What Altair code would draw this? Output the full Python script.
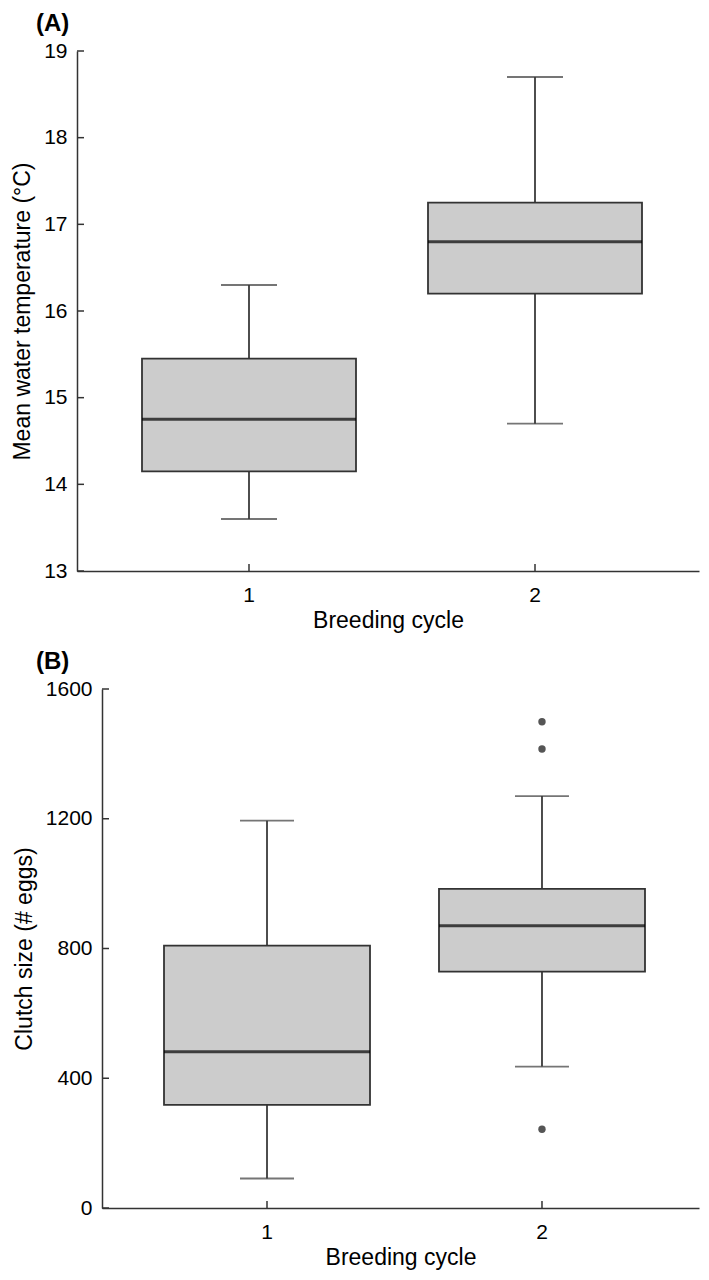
import altair as alt
import pandas as pd

cycles = ["1", "2"]

temp_low = [13.6, 14.7]
temp_q1 = [14.15, 16.2]
temp_median = [14.75, 16.8]
temp_q3 = [15.45, 17.25]
temp_high = [16.3, 18.7]
temp_ticks = [13, 14, 15, 16, 17, 18, 19]

clutch_low = [91, 436]
clutch_q1 = [318, 729]
clutch_median = [482, 870]
clutch_q3 = [809, 984]
clutch_high = [1194, 1270]
clutch_outlier_cycle = ["2", "2", "2"]
clutch_outlier_value = [243, 1415, 1499]
clutch_ticks = [0, 400, 800, 1200, 1600]

FONT = "Liberation Sans"
AXC = "#333333"
W = 622


def panel(letter, ytitle, low, q1, med, q3, high, ticks, height,
          box_w, cap_w, inset, pad_outer, band_align, title_dx,
          out_cycle=None, out_val=None):
    df = pd.DataFrame({"cycle": cycles, "low": low, "q1": q1, "median": med,
                       "q3": q3, "high": high})
    xscale = alt.Scale(domain=cycles, paddingInner=0, paddingOuter=pad_outer,
                       align=band_align, range=[inset, W])
    yscale = alt.Scale(domain=[ticks[0], ticks[-1]], nice=False, zero=False)
    xaxis = alt.Axis(title="Breeding cycle", labelAngle=0, ticks=False, tickSize=0,
                     labelPadding=13, titlePadding=4, domainColor=AXC, domainWidth=1.5,
                     grid=False, labelFontSize=21, titleFontSize=23,
                     labelColor="black", titleColor="black", labelFont=FONT,
                     titleFont=FONT, titleFontWeight="normal")
    yaxis = alt.Axis(title=ytitle, values=ticks, format="d", ticks=False, tickSize=0,
                     offset=-inset,
                     labelPadding=10, titlePadding=9, domainColor=AXC, domainWidth=1.5,
                     grid=False, labelFontSize=21, titleFontSize=23,
                     labelColor="black", titleColor="black", labelFont=FONT,
                     titleFont=FONT, titleFontWeight="normal")
    base = alt.Chart(df)
    X = alt.X("cycle:N", scale=xscale, axis=xaxis)
    whisker = base.mark_rule(color="#3a3a3a", strokeWidth=1.8).encode(
        x=X, y=alt.Y("low:Q", scale=yscale, axis=yaxis), y2="high:Q")
    cap_lo = base.mark_tick(color="#3a3a3a", size=cap_w, thickness=1.8).encode(
        x="cycle:N", y="low:Q")
    cap_hi = base.mark_tick(color="#3a3a3a", size=cap_w, thickness=1.8).encode(
        x="cycle:N", y="high:Q")
    box = base.mark_bar(size=box_w, fill="#cccccc", stroke="#333333",
                        strokeWidth=1.8).encode(x="cycle:N", y="q1:Q", y2="q3:Q")
    median = base.mark_tick(color="black", size=box_w, thickness=3).encode(
        x="cycle:N", y="median:Q")
    tdf = pd.DataFrame({"v": ticks})
    ytick = alt.Chart(tdf).mark_rule(color=AXC, strokeWidth=1.5).encode(
        y="v:Q", x=alt.value(inset), x2=alt.value(inset + 7))
    xtick = base.mark_rule(color=AXC, strokeWidth=1.5).encode(
        x="cycle:N", y=alt.value(height - 7), y2=alt.value(height))
    layers = [whisker, cap_lo, cap_hi, box, median, ytick, xtick]
    if out_cycle is not None:
        odf = pd.DataFrame({"cycle": out_cycle, "value": out_val})
        pts = alt.Chart(odf).mark_circle(size=55, color="#555555", opacity=1).encode(
            x="cycle:N", y="value:Q")
        layers.append(pts)
    return alt.layer(*layers).properties(
        width=W, height=height,
        title=alt.TitleParams(letter, anchor="start", frame="group", dx=title_dx,
                              fontSize=24, fontWeight="bold", font=FONT,
                              color="black", offset=4))


a = panel("(A)", "Mean water temperature (°C)", temp_low, temp_q1, temp_median,
          temp_q3, temp_high, temp_ticks, 520, 214, 56, 0, 0.0874, 0.58, -41)
b = panel("(B)", "Clutch size (# eggs)", clutch_low, clutch_q1, clutch_median,
          clutch_q3, clutch_high, clutch_ticks, 519, 206, 54, 25, 0.0855, 0.585, -41,
          clutch_outlier_cycle, clutch_outlier_value)

chart = alt.vconcat(a, b, spacing=16).configure_view(
    stroke="transparent").properties(
    padding={"left": 3, "top": 3, "right": 0, "bottom": 0})

chart.save("out.html", embed_options={"renderer": "svg", "actions": False})
